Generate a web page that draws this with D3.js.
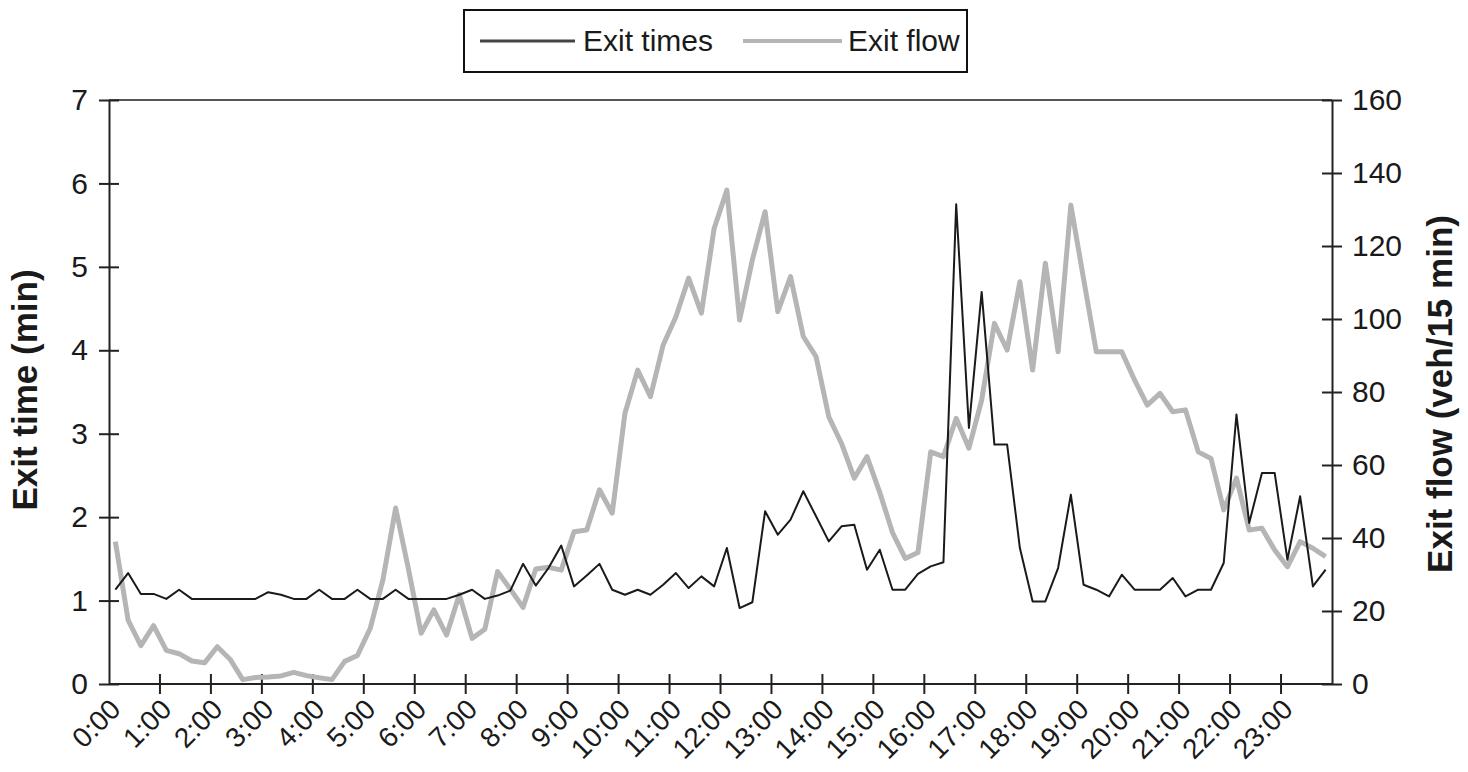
<!DOCTYPE html>
<html>
<head>
<meta charset="utf-8">
<script src="https://cdn.jsdelivr.net/npm/d3@7"></script>
<style>
  html, body { margin: 0; padding: 0; background: #fff; }
  svg { display: block; }
  text { font-family: "Liberation Sans", Arial, sans-serif; fill: #1a1a1a; }
</style>
</head>
<body>
<svg id="chart" width="1468" height="772"></svg>
<script>
// ---- data ----
const hourLabels = ["0:00","1:00","2:00","3:00","4:00","5:00","6:00","7:00","8:00","9:00","10:00","11:00",
  "12:00","13:00","14:00","15:00","16:00","17:00","18:00","19:00","20:00","21:00","22:00","23:00"];
const quarterSuffixes = ["00","15","30","45"];

const exitTimes = [
  1.13,1.33,1.08,1.08, 1.02,1.13,1.02,1.02, 1.02,1.02,1.02,1.02, 1.10,1.07,1.02,1.02,
  1.13,1.02,1.02,1.13, 1.02,1.02,1.13,1.02, 1.02,1.02,1.02,1.07, 1.13,1.02,1.06,1.12,
  1.44,1.18,1.39,1.66, 1.17,1.30,1.44,1.13, 1.07,1.13,1.07,1.19, 1.33,1.15,1.29,1.17,
  1.63,0.91,0.98,2.07, 1.79,1.97,2.31,2.01, 1.71,1.89,1.91,1.37, 1.61,1.13,1.13,1.32,
  1.41,1.46,5.75,3.07, 4.70,2.87,2.87,1.63, 0.99,0.99,1.39,2.27, 1.19,1.13,1.05,1.31,
  1.13,1.13,1.13,1.27, 1.05,1.13,1.13,1.45, 3.23,1.93,2.53,2.53, 1.49,2.25,1.17,1.37
];

const exitFlow = [
  39,17.5,10.5,16, 9.2,8.3,6.3,5.8, 10.2,6.8,1.2,1.8, 1.9,2.2,3.2,2.3,
  1.7,1.2,6.2,7.8, 15.2,28.5,48.2,31.6, 13.9,20.3,13.4,24.5, 12.5,15,30.8,26,
  21,31.5,32,31.2, 41.7,42.2,53.2,46.8, 74.2,86,78.7,92.9, 100.6,111.2,101.6,124.8,
  135.3,99.7,116.2,129.4, 102,111.6,95.2,89.7, 73.2,65.9,56.4,62.3, 52.5,41.5,34.4,36,
  63.6,62.3,72.8,64.6, 77.8,98.8,91.5,110.2, 86,115.3,91,131.2, 111,91,91,91,
  83.3,76.4,79.6,74.6, 75.1,63.6,61.8,47.7, 56.4,42.2,42.7,36.7, 32.1,39,37.2,34.9
];

const timeTicks = [0,1,2,3,4,5,6,7];
const flowTicks = [0,20,40,60,80,100,120,140,160];
const seriesNames = ["Exit times","Exit flow"];
const leftTitle = "Exit time (min)";
const rightTitle = "Exit flow (veh/15 min)";

// categories (15-minute slots)
const categories = [];
hourLabels.forEach(h => quarterSuffixes.forEach(q => categories.push(h.replace(":00", ":" + q))));

// ---- layout ----
const W = 1468, H = 772;
const plot = { left: 109, right: 1332, top: 100, bottom: 684 };
const svg = d3.select("#chart");
svg.append("rect").attr("width", W).attr("height", H).attr("fill", "#fff");

const x = d3.scaleBand().domain(categories).range([plot.left, plot.right]).padding(0);
const xc = c => x(c) + x.bandwidth() / 2;
const yT = d3.scaleLinear().domain([0, 7]).range([plot.bottom, plot.top]);
const yF = d3.scaleLinear().domain([0, 160]).range([plot.bottom, plot.top]);

const axisColor = "#222";
const tickFont = 30;
const xTickFont = 28;

// top border
svg.append("line")
  .attr("x1", plot.left).attr("x2", plot.right)
  .attr("y1", plot.top).attr("y2", plot.top)
  .attr("stroke", "#555").attr("stroke-width", 2);

// left axis
const gL = svg.append("g").attr("transform", `translate(${plot.left},0)`)
  .call(d3.axisLeft(yT).tickValues(timeTicks).tickFormat(d3.format("d")).tickSizeInner(10).tickSizeOuter(0).tickPadding(11));
gL.select(".domain").attr("stroke", axisColor).attr("stroke-width", 2);
gL.selectAll(".tick line").attr("x1", -10).attr("x2", 10).attr("stroke", axisColor).attr("stroke-width", 2);
gL.selectAll(".tick text").attr("font-size", tickFont).attr("fill", "#1a1a1a")
  .style("font-family", '"Liberation Sans", Arial, sans-serif');

// right axis
const gR = svg.append("g").attr("transform", `translate(${plot.right},0)`)
  .call(d3.axisRight(yF).tickValues(flowTicks).tickFormat(d3.format("d")).tickSizeInner(10).tickSizeOuter(0).tickPadding(10));
gR.select(".domain").attr("stroke", axisColor).attr("stroke-width", 2);
gR.selectAll(".tick line").attr("x1", -10).attr("x2", 10).attr("stroke", axisColor).attr("stroke-width", 2);
gR.selectAll(".tick text").attr("font-size", tickFont).attr("fill", "#1a1a1a")
  .style("font-family", '"Liberation Sans", Arial, sans-serif');

// bottom axis: ticks at every hour boundary, labels at hour categories
const hourCats = categories.filter((c, i) => i % 4 === 0);
const gB = svg.append("g").attr("transform", `translate(0,${plot.bottom})`);
gB.append("line").attr("x1", plot.left).attr("x2", plot.right).attr("y1", 0).attr("y2", 0)
  .attr("stroke", axisColor).attr("stroke-width", 2);
gB.selectAll("line.xtick").data(hourCats.slice(1)).join("line").attr("class", "xtick")
  .attr("x1", d => x(d)).attr("x2", d => x(d)).attr("y1", -10).attr("y2", 10)
  .attr("stroke", axisColor).attr("stroke-width", 2);
gB.selectAll("text.xlab").data(hourCats).join("text").attr("class", "xlab")
  .attr("transform", (d) => `translate(${xc(d) + 7},${27}) rotate(-45)`)
  .attr("text-anchor", "end")
  .attr("font-size", xTickFont)
  .text((d, i) => hourLabels[i]);

// lines
const lineFlow = d3.line().x((d, i) => xc(categories[i])).y(d => yF(d));
const lineTime = d3.line().x((d, i) => xc(categories[i])).y(d => yT(d));

svg.append("path").datum(exitFlow).attr("d", lineFlow)
  .attr("fill", "none").attr("stroke", "#b5b5b5").attr("stroke-width", 5)
  .attr("stroke-linejoin", "round");
svg.append("path").datum(exitTimes).attr("d", lineTime)
  .attr("fill", "none").attr("stroke", "#1a1a1a").attr("stroke-width", 2)
  .attr("stroke-linejoin", "round");

// axis titles
svg.append("text")
  .attr("transform", `translate(37,390) rotate(-90)`)
  .attr("text-anchor", "middle")
  .attr("font-size", 35).attr("font-weight", "bold")
  .text(leftTitle);
svg.append("text")
  .attr("transform", `translate(1452,394) rotate(-90)`)
  .attr("text-anchor", "middle")
  .attr("font-size", 35).attr("font-weight", "bold")
  .text(rightTitle);

// legend
const lg = svg.append("g");
lg.append("rect").attr("x", 464).attr("y", 10).attr("width", 503).attr("height", 62)
  .attr("fill", "#fff").attr("stroke", "#111").attr("stroke-width", 2);
lg.append("line").attr("x1", 480).attr("x2", 575).attr("y1", 41).attr("y2", 41)
  .attr("stroke", "#444").attr("stroke-width", 3);
lg.append("text").attr("x", 583).attr("y", 51).attr("font-size", 30).text(seriesNames[0]);
lg.append("line").attr("x1", 743).attr("x2", 842).attr("y1", 41).attr("y2", 41)
  .attr("stroke", "#b5b5b5").attr("stroke-width", 4);
lg.append("text").attr("x", 848).attr("y", 51).attr("font-size", 30).text(seriesNames[1]);
</script>
</body>
</html>
